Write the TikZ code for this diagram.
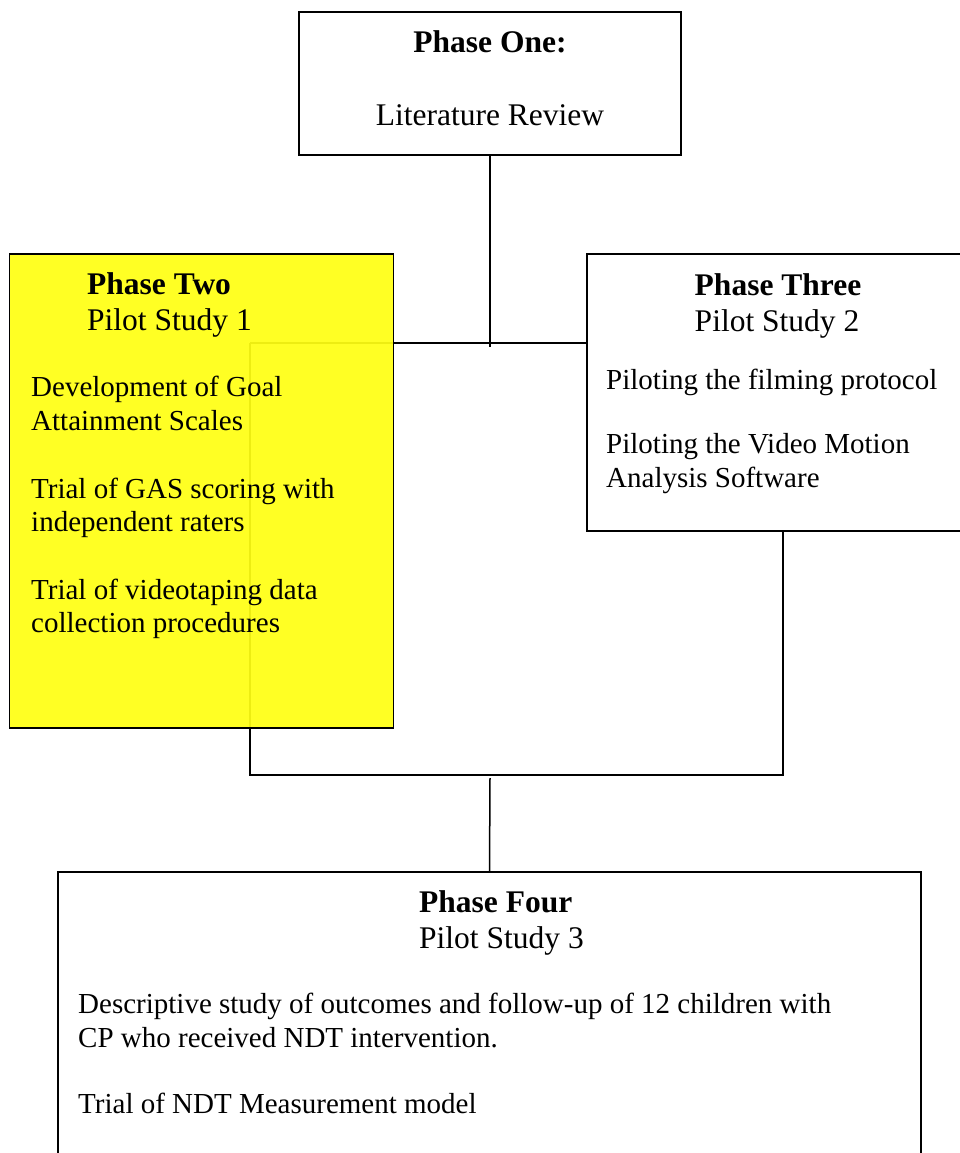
\documentclass[tikz,border=0pt]{standalone}
\usepackage{fontspec}
\setmainfont{Liberation Serif}
\definecolor{hiyellow}{HTML}{FFFF14}
\begin{document}
\begin{tikzpicture}[x=1pt,y=-1pt,
  box/.style={draw=black,line width=1.5pt,fill=white,inner sep=0pt},
  conn/.style={draw=black,line width=1.5pt},
  txt/.style={anchor=base west,inner sep=0pt,font=\fontsize{29}{34}\selectfont},
  htxt/.style={anchor=base west,inner sep=0pt,font=\fontsize{31.5}{34}\selectfont},
  ctxt/.style={anchor=base,inner sep=0pt,font=\fontsize{31.5}{34}\selectfont},
  bf/.style={font=\fontsize{31.5}{34}\selectfont\bfseries}]
\useasboundingbox[fill=white] (0,0) rectangle (960,1153);
% junction coordinates
\coordinate (jt) at (490,347);
\coordinate (jl) at (250,343);
\coordinate (jbl) at (250,775);
\coordinate (jbr) at (783,775);
\coordinate (jb) at (490,778);
% boxes (nodes)
\node[box,minimum width=382pt,minimum height=143pt] (p1) at (490,83.5) {};
\node[box,minimum width=388pt,minimum height=277pt] (p3) at (781,392.5) {};
\node[box,minimum width=863pt,minimum height=308pt] (p4) at (489.5,1026) {};
% connectors
\draw[conn] (p1.south) -- (jt);
\draw[conn] (jl) -- (jl -| p3.west);
\draw[conn] (jl) -- (jbl) -- (jbr) -- (jbr |- p3.south);
\draw[conn] (jb) -- (p4.north);
% phase two box, drawn over the connector
\node[box,fill=hiyellow,fill opacity=0.93,minimum width=384pt,minimum height=474pt] (p2) at (201.5,491) {};
% redraw phase three box on top
\node[box,minimum width=388pt,minimum height=277pt] at (781,392.5) {};
% texts
\node[ctxt,bf] (t1a) at (490,53) {Phase One:};
\node[ctxt] (t1b) at (490,126) {Literature Review};

\node[htxt,bf] (t2a) at (87,294) {Phase Two};
\node[htxt] (t2b) at (87,330) {Pilot Study 1};
\node[txt] (t2c) at (31,396) {Development of Goal};
\node[txt] (t2d) at (31,430) {Attainment Scales};
\node[txt] (t2e) at (31,498) {Trial of GAS scoring with};
\node[txt] (t2f) at (31,531) {independent raters};
\node[txt] (t2g) at (31,599) {Trial of videotaping data};
\node[txt] (t2h) at (31,632) {collection procedures};

\node[ctxt,bf] (t3a) at (778,295) {Phase Three};
\node[ctxt] (t3b) at (777,331) {Pilot Study 2};
\node[txt] (t3c) at (606,389) {Piloting the filming protocol};
\node[txt] (t3d) at (606,453) {Piloting the Video Motion};
\node[txt] (t3e) at (606,487) {Analysis Software};

\node[htxt,bf] (t4a) at (419,912) {Phase Four};
\node[htxt] (t4b) at (419,948) {Pilot Study 3};
\node[txt] (t4c) at (78,1013) {Descriptive study of outcomes and follow-up of 12 children with};
\node[txt] (t4d) at (78,1047) {CP who received NDT intervention.};
\node[txt] (t4e) at (78,1113) {Trial of NDT Measurement model};
\end{tikzpicture}
\end{document}
